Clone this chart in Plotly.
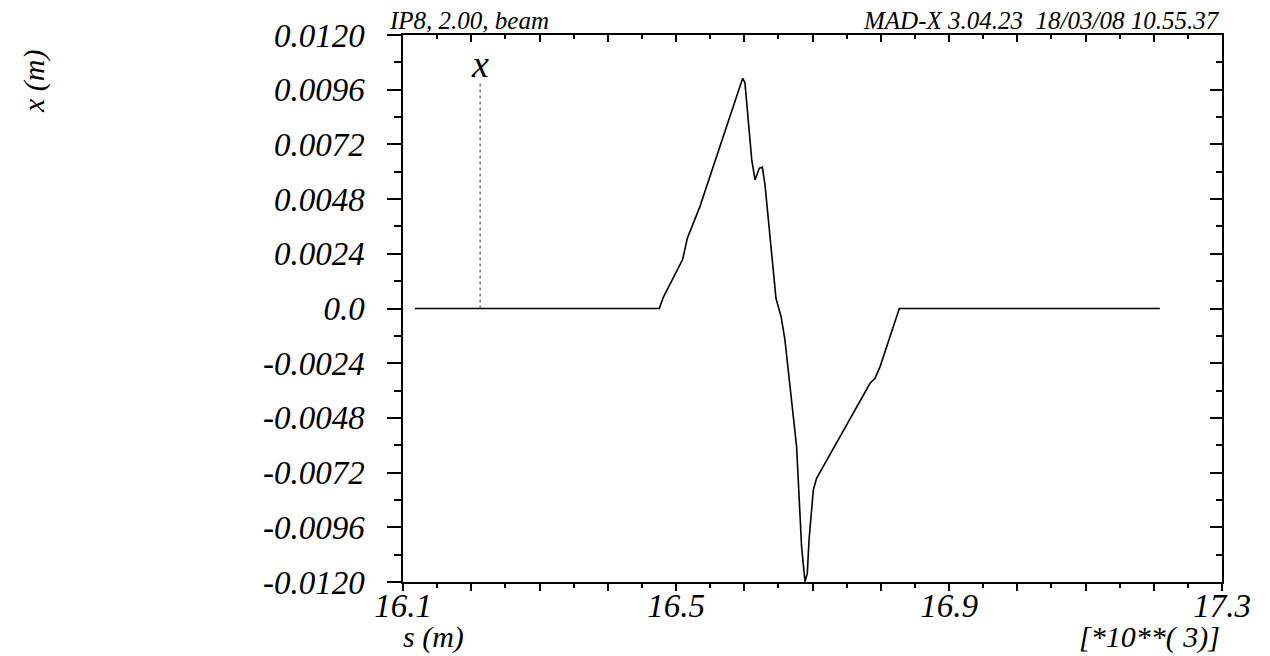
import numpy as np
import plotly.graph_objects as go

# ---- data ----
s_km = [16.1176, 16.4755, 16.4814, 16.5098, 16.5166, 16.535, 16.5977, 16.601,
        16.611, 16.6158, 16.622, 16.6265, 16.6304, 16.6465, 16.654, 16.6596,
        16.6767, 16.6817, 16.684, 16.689, 16.6924, 16.6949, 16.7012, 16.706,
        16.7843, 16.7916, 16.799, 16.8272, 17.209]
x_m = [0.0, 0.0, 0.00049, 0.00216, 0.00308, 0.00447, 0.0101, 0.00991,
       0.00652, 0.00564, 0.00615, 0.0062, 0.00542, 0.00045, -0.00036, -0.00138,
       -0.00606, -0.00899, -0.01045, -0.01199, -0.01162, -0.01016, -0.00796, -0.00745,
       -0.00328, -0.00306, -0.00255, 0.0, 0.0]

x_tick_vals = [16.1, 16.2, 16.3, 16.4, 16.5, 16.6, 16.7, 16.8, 16.9, 17.0, 17.1, 17.2, 17.3]
x_tick_text = ["16.1", "", "", "", "16.5", "", "", "", "16.9", "", "", "", "17.3"]
y_tick_vals = [-0.012, -0.0096, -0.0072, -0.0048, -0.0024, 0.0, 0.0024, 0.0048, 0.0072, 0.0096, 0.012]
y_tick_text = ["-0.0120", "-0.0096", "-0.0072", "-0.0048", "-0.0024", "0.0",
               "0.0024", "0.0048", "0.0072", "0.0096", "0.0120"]

legend_s = [16.213, 16.213]
legend_y = [0.0, 0.0100]
legend_label = "x"

FONT = "Liberation Serif"
tickfont = dict(family=FONT, size=33, color="black", style="italic")

fig = go.Figure()
fig.add_trace(go.Scatter(x=legend_s, y=legend_y, mode="lines",
                         line=dict(color="#333", width=1, dash="dot"),
                         hoverinfo="skip", showlegend=False))
fig.add_trace(go.Scatter(x=s_km, y=x_m, mode="lines",
                         line=dict(color="black", width=1.6),
                         showlegend=False))
fig.add_trace(go.Scatter(x=s_km, y=x_m, mode="lines", xaxis="x2", yaxis="y2",
                         line=dict(color="rgba(0,0,0,0)", width=0),
                         hoverinfo="skip", showlegend=False))

common_x = dict(range=[16.1, 17.3], showgrid=False, zeroline=False, showline=True,
                linecolor="black", linewidth=1.5, tickcolor="black", tickwidth=1.5,
                automargin=False)
common_y = dict(range=[-0.012, 0.012], showgrid=False, zeroline=False, showline=True,
                linecolor="black", linewidth=1.5, tickcolor="black", tickwidth=1.5,
                automargin=False)

# page body has an 8px margin: figure is shrunk by 8px so the plot area lands
# on the reference pixels (403..1222 x 35..582)
fig.update_layout(
    width=1262, height=648,
    margin=dict(l=395, r=48, t=27, b=74),
    paper_bgcolor="white", plot_bgcolor="white",
    xaxis=dict(**common_x, tickmode="array", tickvals=x_tick_vals, ticktext=x_tick_text,
               ticks="outside", ticklen=7, tickfont=tickfont, ticklabelstandoff=-13,
               minor=dict(tickmode="linear", tick0=16.1, dtick=0.05, ticks="outside",
                          ticklen=4, tickcolor="black", tickwidth=1.5)),
    xaxis2=dict(**common_x, overlaying="x", side="top", anchor="y2", matches="x",
                tickmode="array", tickvals=x_tick_vals, showticklabels=False,
                ticks="inside", ticklen=7,
                minor=dict(tickmode="linear", tick0=16.1, dtick=0.05, ticks="inside",
                           ticklen=4, tickcolor="black", tickwidth=1.5)),
    yaxis=dict(**common_y, tickmode="array", tickvals=y_tick_vals, ticktext=y_tick_text,
               ticks="outside", ticklen=14, tickfont=tickfont, ticklabelstandoff=16,
               minor=dict(tickmode="linear", tick0=-0.012, dtick=0.0012, ticks="outside",
                          ticklen=7, tickcolor="black", tickwidth=1.5)),
    yaxis2=dict(**common_y, overlaying="y", side="right", anchor="x2", matches="y",
                tickmode="array", tickvals=y_tick_vals, showticklabels=False,
                ticks="inside", ticklen=12,
                minor=dict(tickmode="linear", tick0=-0.012, dtick=0.0012, ticks="inside",
                           ticklen=6, tickcolor="black", tickwidth=1.5)),
)

afont = dict(family=FONT, color="black", style="italic")
fig.add_annotation(x=legend_s[0], y=legend_y[1], xref="x", yref="y", text=legend_label,
                   showarrow=False, yanchor="bottom", yshift=-6,
                   font=dict(**afont, size=38))
fig.add_annotation(x=-0.0195, y=1.0, xref="paper", yref="paper", xanchor="left",
                   yanchor="bottom", yshift=-1, text="IP8, 2.00, beam", showarrow=False,
                   font=dict(**afont, size=25))
fig.add_annotation(x=1.0, y=1.0, xref="paper", yref="paper", xanchor="right",
                   yanchor="bottom", yshift=-1, text="MAD-X 3.04.23  18/03/08 10.55.37",
                   showarrow=False, font=dict(**afont, size=25))
fig.add_annotation(x=-0.4505, y=0.914, xref="paper", yref="paper", textangle=-90,
                   xanchor="center", yanchor="middle",
                   text="x (m)", showarrow=False, font=dict(**afont, size=30))
fig.add_annotation(x=-0.003, y=-0.1353, xref="paper", yref="paper", xanchor="left",
                   yanchor="bottom", text="s (m)", showarrow=False, font=dict(**afont, size=30))
fig.add_annotation(x=1.0, y=-0.1353, xref="paper", yref="paper", xanchor="right",
                   yanchor="bottom", text="[*10**( 3)]", showarrow=False,
                   font=dict(**afont, size=30))

fig.write_html("out.html", config={"displayModeBar": False})
